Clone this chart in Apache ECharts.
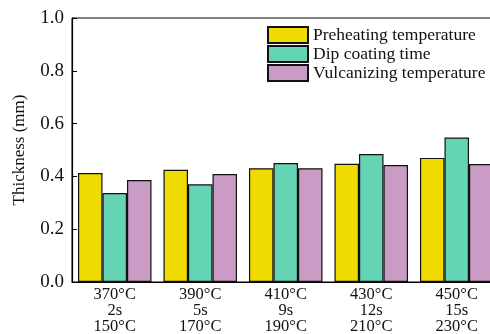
<!DOCTYPE html>
<html>
<head>
<meta charset="utf-8">
<script src="https://cdn.jsdelivr.net/npm/echarts@6/dist/echarts.min.js"></script>
<style>html,body{margin:0;padding:0;background:#fff;}#c{width:490px;height:334px;}</style>
</head>
<body>
<div id="c"></div>
<script>
var categories = ['370°C\n2s\n150°C', '390°C\n5s\n170°C', '410°C\n9s\n190°C', '430°C\n12s\n210°C', '450°C\n15s\n230°C'];
var seriesNames = ['Preheating temperature', 'Dip coating time', 'Vulcanizing temperature'];
var preheating = [0.413, 0.425, 0.431, 0.448, 0.470];
var dipCoating = [0.337, 0.370, 0.451, 0.485, 0.547];
var vulcanizing = [0.386, 0.409, 0.431, 0.443, 0.447];
var yTicks = [0.0, 0.2, 0.4, 0.6, 0.8, 1.0];
var colors = ['#F0DC00', '#64D4B4', '#C99BC5'];

var font = 'Liberation Serif';
var chart = echarts.init(document.getElementById('c'));
var dataSets = [preheating, dipCoating, vulcanizing];
chart.setOption({
  animation: false,
  textStyle: { fontFamily: font },
  grid: { left: 72, top: 18, width: 427.5, bottom: 52, containLabel: false, outerBoundsMode: 'none', show: true, borderColor: '#000', borderWidth: 1, backgroundColor: 'transparent' },
  legend: {
    orient: 'vertical', left: 262, top: 21, itemWidth: 40, itemHeight: 16, itemGap: 1, icon: 'rect',
    textStyle: { fontFamily: font, fontSize: 17.5, color: '#111' },
    data: seriesNames
  },
  xAxis: {
    type: 'category', data: categories,
    axisLine: { lineStyle: { color: '#000', width: 1.2 } },
    axisTick: { show: true, inside: true, alignWithLabel: true, length: 5, lineStyle: { color: '#000' } },
    axisLabel: { fontFamily: font, fontSize: 16.5, color: '#111', lineHeight: 16, margin: 5 }
  },
  yAxis: {
    type: 'value', min: yTicks[0], max: yTicks[yTicks.length - 1], interval: 0.2,
    name: 'Thickness (mm)', nameLocation: 'middle', nameGap: 44,
    nameTextStyle: { fontFamily: font, fontSize: 17, color: '#111' },
    splitLine: { show: false },
    axisLine: { show: true, lineStyle: { color: '#000', width: 1.2 } },
    axisTick: { show: true, inside: true, length: 5, lineStyle: { color: '#000' } },
    axisLabel: { fontFamily: font, fontSize: 19, color: '#111', margin: 8, formatter: function (v) { return v.toFixed(1); } }
  },
  series: seriesNames.map(function (n, i) {
    return {
      name: n, type: 'bar', data: dataSets[i],
      barGap: '0%', barCategoryGap: '14%',
      itemStyle: { color: colors[i], borderColor: '#111', borderWidth: 1.2 }
    };
  })
});
</script>
</body>
</html>
